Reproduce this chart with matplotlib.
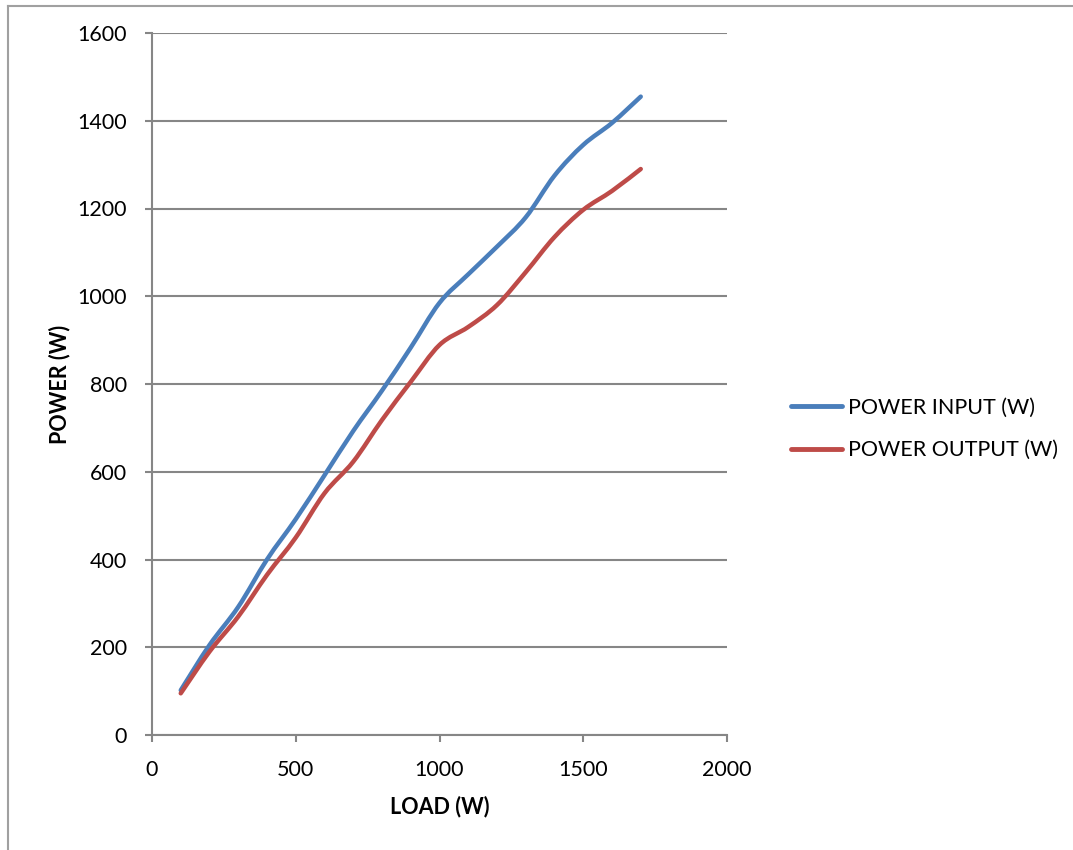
import numpy as np
import matplotlib.pyplot as plt
import matplotlib
from matplotlib.path import Path
from matplotlib.patches import PathPatch
from matplotlib.lines import Line2D

matplotlib.rcParams['font.family'] = ['Lato', 'DejaVu Sans']

# Dati misurati
load = [100, 200, 300, 400, 500, 600, 700, 800, 900, 1000, 1100, 1200, 1300, 1400, 1500, 1600, 1700]
power_in = [102, 205, 292, 400, 492, 592, 693, 785, 883, 985, 1050, 1113, 1180, 1275, 1345, 1395, 1455]
power_out = [95, 190, 270, 365, 450, 551, 623, 718, 805, 889, 930, 980, 1055, 1135, 1197, 1240, 1290]

c_in = '#4A7EBB'
c_out = '#BE4B48'
grey = '#868686'
fs = 15.5


def smooth_path(x, y):
    # curva di Bezier tipo "linea smussata" di Excel
    x = np.asarray(x, float)
    y = np.asarray(y, float)
    verts = [(x[0], y[0])]
    codes = [Path.MOVETO]
    n = len(x)
    for i in range(n - 1):
        i0 = max(i - 1, 0)
        i3 = min(i + 2, n - 1)
        c1 = (x[i] + (x[i + 1] - x[i0]) / 6, y[i] + (y[i + 1] - y[i0]) / 6)
        c2 = (x[i + 1] - (x[i3] - x[i]) / 6, y[i + 1] - (y[i3] - y[i]) / 6)
        verts += [c1, c2, (x[i + 1], y[i + 1])]
        codes += [Path.CURVE4] * 3
    return Path(verts, codes)


fig = plt.figure(figsize=(10.73, 8.5), dpi=100)
ax = fig.add_axes([152 / 1073, 1 - 735 / 850, 575 / 1073, 702 / 850])

for s in ['top', 'right']:
    ax.spines[s].set_visible(False)
for s in ['left', 'bottom']:
    ax.spines[s].set_color(grey)
    ax.spines[s].set_linewidth(1.5)

ax.set_xlim(0, 2000)
ax.set_ylim(0, 1600)
ax.set_xticks(np.arange(0, 2001, 500))
ax.set_yticks(np.arange(0, 1601, 200))
ax.tick_params(axis='both', colors=grey, labelcolor='black', labelsize=fs,
               length=5, width=1.5, direction='out')
ax.tick_params(axis='x', pad=13)
ax.tick_params(axis='y', pad=13)
ax.grid(axis='y', color=grey, linewidth=1.5)
ax.set_axisbelow(True)

for yv, col in [(power_in, c_in), (power_out, c_out)]:
    ax.add_patch(PathPatch(smooth_path(load, yv), facecolor='none', edgecolor=col,
                           linewidth=3.2, capstyle='round', joinstyle='round', zorder=3))

ax.set_xlabel('LOAD (W)', fontsize=fs, fontweight='bold', labelpad=11)
ax.set_ylabel('POWER (W)', fontsize=fs, fontweight='bold', labelpad=5)

handles = [Line2D([], [], color=c_in, linewidth=3.5, solid_capstyle='round'),
           Line2D([], [], color=c_out, linewidth=3.5, solid_capstyle='round')]
fig.legend(handles, ['POWER INPUT (W)', 'POWER OUTPUT (W)'], loc='center left',
           bbox_to_anchor=(780 / 1073, 1 - 429 / 850), frameon=False, fontsize=fs,
           handlelength=2.4, handletextpad=0.25, labelspacing=1.05, borderpad=0)

# cornice del grafico
fig.add_artist(Line2D([8 / 1073, 8 / 1073], [0, 1 - 6 / 850], color='#A0A0A0', linewidth=1.5))
fig.add_artist(Line2D([8 / 1073, 1], [1 - 6 / 850, 1 - 6 / 850], color='#A0A0A0', linewidth=1.5))

plt.savefig('out.png', dpi=100)
